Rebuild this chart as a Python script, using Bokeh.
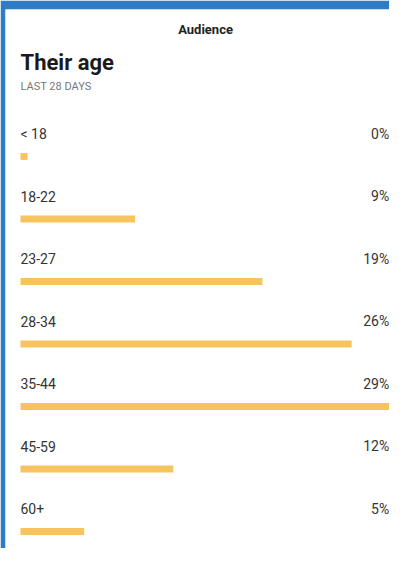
from bokeh.plotting import figure
from bokeh.models import Range1d, ColumnDataSource
from bokeh.core.properties import value
from bokeh.embed import file_html
from bokeh.resources import INLINE

# ---- data ----
categories = ["< 18", "18-22", "23-27", "28-34", "35-44", "45-59", "60+"]
percents = [0, 9, 19, 26, 29, 12, 5]
value_labels = ["0%", "9%", "19%", "26%", "29%", "12%", "5%"]

# ---- style constants ----
FONT = "Roboto"
BAR_COLOR = "#F6C35F"
FRAME_BLUE = "#2E7BC6"
MIN_BAR = 0.55          # smallest drawn bar (dot for 0%)
BAR_OFFSET = 0.368      # bar sits below its label (row units)
BAR_HEIGHT = 0.115
X_RIGHT = 28.95         # right edge for value labels

rows = list(range(len(categories)))
src = ColumnDataSource(dict(
    row=rows,
    bar_y=[r + BAR_OFFSET for r in rows],
    cat=categories,
    val=value_labels,
    right=[max(v, MIN_BAR) for v in percents],
))

W, H = 389, 548
p = figure(width=W, height=H, output_backend="svg", toolbar_location=None,
           x_range=Range1d(-1.178, 28.977), y_range=Range1d(6.64, -1.984),
           min_border=0, min_border_left=5, min_border_top=9,
           background_fill_color="white", border_fill_color=FRAME_BLUE)
p.axis.visible = False
p.grid.visible = False
p.outline_line_color = None

p.hbar(y="bar_y", left=0, right="right", height=BAR_HEIGHT, source=src,
       fill_color=BAR_COLOR, line_color=None)

p.text(x=0, y="row", text="cat", source=src, text_baseline="middle",
       text_align="left", text_font=value(FONT), text_font_size="14px",
       text_color="#333333")
p.text(x=X_RIGHT, y="row", text="val", source=src, text_baseline="middle",
       text_align="right", text_font=value(FONT), text_font_size="14px",
       text_color="#333333")

p.text(x=[14.53], y=[-1.664], text=["Audience"], text_align="center",
       text_baseline="middle", text_font=value(FONT), text_font_size="13px",
       text_font_style="bold", text_color="#222222")
p.text(x=[0], y=[-1.136], text=["Their age"], text_align="left",
       text_baseline="middle", text_font=value(FONT), text_font_size="22px",
       text_font_style="bold", text_color="#1a1a1a")
p.text(x=[0], y=[-0.752], text=["LAST 28 DAYS"], text_align="left",
       text_baseline="middle", text_font=value(FONT), text_font_size="11px",
       text_color="#777777")

open("out.html", "w").write(file_html(p, INLINE))
